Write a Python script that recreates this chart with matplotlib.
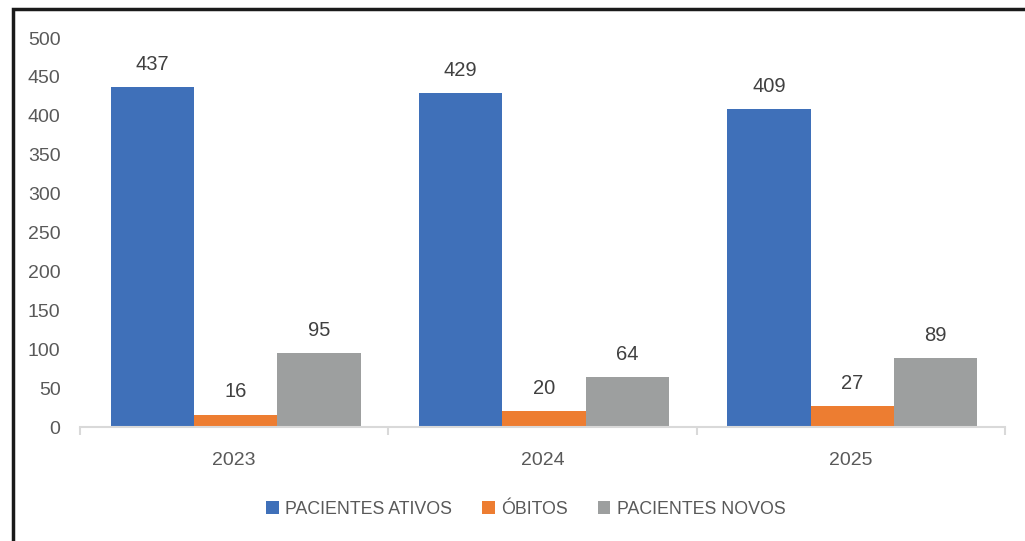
import numpy as np
import matplotlib.pyplot as plt
from matplotlib.patches import Rectangle

# data
years = ["2023", "2024", "2025"]
series_names = ["PACIENTES ATIVOS", "ÓBITOS", "PACIENTES NOVOS"]
ativos = [437, 429, 409]
obitos = [16, 20, 27]
novos = [95, 64, 89]
yticks = [0, 50, 100, 150, 200, 250, 300, 350, 400, 450, 500]

colors = ["#3F70B9", "#ED7D31", "#9D9F9F"]
text_color = "#595959"

plt.rcParams["font.family"] = ["Liberation Sans", "DejaVu Sans"]

fig = plt.figure(figsize=(10.25, 5.41), dpi=100)
ax = fig.add_axes([0.078, 0.2107, 0.9025, 0.719])

x = np.arange(len(years))
w = 0.27
for i, (vals, name) in enumerate(zip([ativos, obitos, novos], series_names)):
    bars = ax.bar(x + (i - 1) * w + 0.005, vals, width=w, color=colors[i], label=name)
    for b, v in zip(bars, vals):
        ax.annotate(str(v), (b.get_x() + b.get_width() / 2, v),
                    xytext=(0, 9.5), textcoords="offset points",
                    ha="center", va="bottom", fontsize=14.5, color="#404040")

ax.set_xlim(-0.5, 2.5)
ax.set_ylim(0, 500)
ax.set_yticks(yticks)
ax.set_xticks(x)
ax.set_xticklabels(years)
ax.set_xticks([-0.5, 0.5, 1.5, 2.5], minor=True)
ax.tick_params(axis="y", length=0, pad=14, labelsize=14, labelcolor=text_color)
ax.tick_params(axis="x", which="major", length=0, pad=18, labelsize=14, labelcolor=text_color)
ax.tick_params(axis="x", which="minor", length=6, color="#D9D9D9", width=1.5)

for side in ["top", "right", "left"]:
    ax.spines[side].set_visible(False)
ax.spines["bottom"].set_color("#D9D9D9")
ax.spines["bottom"].set_linewidth(1.5)

leg = fig.legend(loc="center", bbox_to_anchor=(0.513, 0.059), ncol=3, frameon=False,
                 fontsize=12.8, handlelength=0.7, handleheight=0.7,
                 handletextpad=0.35, columnspacing=1.7)
for t in leg.get_texts():
    t.set_color(text_color)

# outer frame (only left and top edges visible in the reference)
fig.patches.append(Rectangle((0.0127, -0.1), 1.2, 1.083, transform=fig.transFigure,
                             fill=False, edgecolor="#1a1a1a", linewidth=2.5))

fig.savefig("out.png", dpi=100, facecolor="white")
